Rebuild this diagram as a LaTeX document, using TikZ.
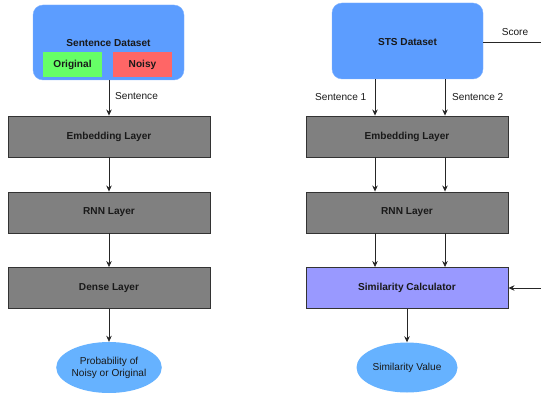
\documentclass[tikz,border=0pt]{standalone}
\usepackage{fontspec}
\setmainfont{Liberation Sans}
\usetikzlibrary{arrows.meta,shapes.geometric}
\definecolor{dsblue}{RGB}{92,157,255}
\definecolor{ellblue}{RGB}{102,178,255}
\definecolor{okgreen}{RGB}{102,255,102}
\definecolor{badred}{RGB}{255,102,102}
\definecolor{layergray}{RGB}{128,128,128}
\definecolor{calcpurple}{RGB}{153,153,255}
\definecolor{edgedark}{RGB}{51,51,51}
\begin{document}
\begin{tikzpicture}[x=1pt,y=-1pt,
  every node/.style={font=\fontsize{10.1}{12}\selectfont, inner sep=0pt},
  dataset/.style={fill=dsblue, draw=dsblue!80!white, rounded corners=10pt, minimum width=151pt, minimum height=75pt},
  tag/.style={minimum width=59pt, minimum height=25pt, font=\fontsize{10.1}{12}\selectfont\bfseries, text=black!90},
  layer/.style={fill=layergray, draw=edgedark, line width=0.9pt, minimum width=202pt, minimum height=41pt, font=\fontsize{10.1}{12}\selectfont\bfseries, text=black!90},
  result/.style={ellipse, fill=ellblue, minimum width=100pt, minimum height=51pt, align=center, text=black!90},
  conn/.style={draw=black!85, line width=0.8pt, -{Stealth[length=6pt,width=5.5pt]}},
  lbl/.style={text=black!90}
]
\useasboundingbox (0,0) rectangle (541,396);

% ---------- left column ----------
\node[dataset] (ds) at (108.5,42.5) {};
\node[font=\fontsize{10.1}{12}\selectfont\bfseries, text=black!90] (dslbl) at (108.5,43) {Sentence Dataset};
\node[tag, fill=okgreen] (orig) at (72.5,64.5) {Original};
\node[tag, fill=badred] (noisy) at (142.5,64.5) {Noisy};

\node[layer] (emb1) at (109,136.5) {Embedding Layer};
\node[layer] (rnn1) at (109,212.5) {RNN Layer};
\node[layer] (dense) at (109,288) {Dense Layer};
\node[result] (prob) at (109,367.5) {Probability of\\Noisy or Original};

\draw[conn] (ds.south -| emb1.north) -- (emb1.north);
\node[lbl, anchor=west] (sentlbl) at (115,96) {Sentence};
\draw[conn] (emb1.south) -- (rnn1.north);
\draw[conn] (rnn1.south) -- (dense.north);
\draw[conn] (dense.south) -- (prob.north);

% ---------- right column ----------
\node[dataset, minimum height=76pt] (sts) at (407.5,41) {};
\node[font=\fontsize{10.1}{12}\selectfont\bfseries, text=black!90] (stslbl) at (407.5,42) {STS Dataset};

\node[layer] (emb2) at (407,136.5) {Embedding Layer};
\node[layer] (rnn2) at (407,212.5) {RNN Layer};
\node[layer, fill=calcpurple] (calc) at (407,288) {Similarity Calculator};
\node[result, minimum width=101pt, minimum height=50pt] (simval) at (407,367.5) {Similarity Value};

\draw[conn] ([xshift=-32pt]emb2.north |- sts.south) -- ([xshift=-32pt]emb2.north);
\draw[conn] ([xshift=38pt]emb2.north |- sts.south) -- ([xshift=38pt]emb2.north);
\node[lbl, anchor=east] (s1lbl) at (366.5,97) {Sentence 1};
\node[lbl, anchor=west] (s2lbl) at (452,97) {Sentence 2};

\draw[conn] ([xshift=-32pt]emb2.south) -- ([xshift=-32pt]rnn2.north);
\draw[conn] ([xshift=38pt]emb2.south) -- ([xshift=38pt]rnn2.north);
\draw[conn] ([xshift=-32pt]rnn2.south) -- ([xshift=-32pt]calc.north);
\draw[conn] ([xshift=38pt]rnn2.south) -- ([xshift=38pt]calc.north);
\draw[conn] (calc.south) -- (simval.north);

\coordinate (scoreend) at (541,42);
\draw[draw=black!85, line width=0.8pt] (sts.east |- scoreend) -- (scoreend);
\node[lbl] (scorelbl) at (515,32) {Score};

\coordinate (calcin) at (541,288);
\draw[conn] (calcin) -- (calc.east);
\end{tikzpicture}
\end{document}
